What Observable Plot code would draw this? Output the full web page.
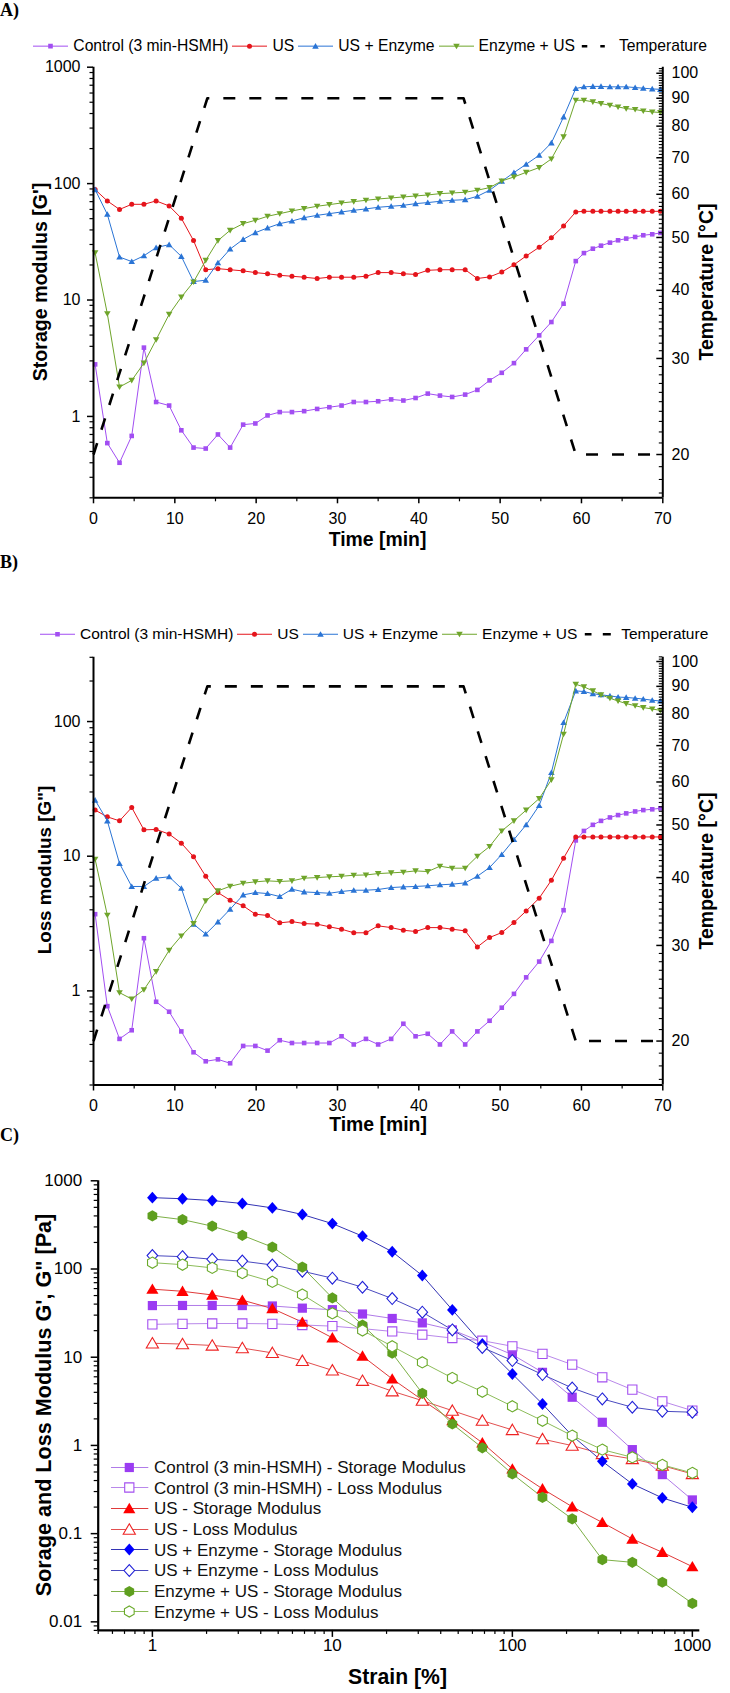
<!DOCTYPE html>
<html>
<head>
<meta charset="utf-8">
<title>Rheology of HSMH gels</title>
<script src="https://cdn.jsdelivr.net/npm/d3@7"></script>
<script src="https://cdn.jsdelivr.net/npm/@observablehq/plot@0.6"></script>
<style>
  html, body { margin: 0; padding: 0; background: #fff; }
  #page { position: relative; width: 730px; height: 1693px; overflow: hidden;
          font-family: "Liberation Sans", Arial, Helvetica, sans-serif; color: #000; }
  #page > * { position: absolute; }
  .tag { font-family: "Liberation Serif", "Times New Roman", serif; font-weight: bold; font-size: 18px; line-height: 1; }
  .title { font-weight: bold; white-space: nowrap; line-height: 1; }
  .legend { display: flex; align-items: center; white-space: nowrap; line-height: 1; }
  .legend svg { display: block; flex: none; }
  .crow { display: flex; align-items: center; white-space: nowrap; line-height: 1; font-size: 17px; color: #111; }
  .crow svg { display: block; flex: none; overflow: visible; }
</style>
</head>
<body>
<div id="page"></div>
<script>
// ---------- Temperature sweeps (panels A and B) ----------
const timeMin = [0.2, 1.7, 3.2, 4.7, 6.2, 7.7, 9.3, 10.8, 12.3, 13.8,
  15.3, 16.8, 18.4, 19.9, 21.4, 22.9, 24.4, 25.9, 27.5, 29.0,
  30.5, 32.0, 33.5, 35.0, 36.6, 38.1, 39.6, 41.1, 42.6, 44.1,
  45.7, 47.2, 48.7, 50.2, 51.7, 53.2, 54.8, 56.3, 57.8, 59.3,
  60.3, 61.4, 62.4, 63.5, 64.5, 65.5, 66.6, 67.6, 68.7, 69.7];

const seriesNames = ["Control (3 min-HSMH)", "US", "US + Enzyme", "Enzyme + US"];

// Storage modulus G' [Pa]
const storageControl = [2.8, 0.59, 0.40, 0.68, 3.9, 1.33, 1.24, 0.76, 0.54, 0.53,
  0.70, 0.54, 0.85, 0.87, 1.02, 1.09, 1.09, 1.11, 1.16, 1.20,
  1.24, 1.33, 1.33, 1.35, 1.40, 1.37, 1.44, 1.57, 1.51, 1.47,
  1.54, 1.69, 2.04, 2.37, 2.87, 3.77, 4.97, 6.47, 9.3, 21.6,
  25.3, 27.6, 29.3, 31.1, 32.6, 33.7, 34.8, 36.0, 36.7, 37.7];
const storageUS = [88.8, 71, 60, 66.4, 66.4, 71, 64.3, 50.4, 32.4, 18.2,
  18.6, 18.2, 17.8, 17.2, 16.8, 16.3, 16.0, 15.7, 15.3, 15.7,
  15.7, 15.7, 16.0, 17.2, 17.2, 16.8, 16.6, 18.0, 18.2, 18.2,
  18.2, 15.3, 15.8, 17.4, 20.1, 23.9, 28.4, 34.3, 43.3, 57.1,
  57.8, 57.8, 57.8, 57.8, 57.8, 57.8, 57.8, 57.8, 57.8, 57.8];
const storageUSEnzyme = [88.8, 54.5, 23.4, 21.4, 24.0, 28.2, 29.9, 23.7, 14.4, 14.8,
  20.9, 27.4, 33.2, 37.9, 41.6, 45.3, 47.7, 51.0, 53.4, 55.2,
  57.1, 59.0, 60.6, 62.6, 63.9, 65.1, 67.3, 68.7, 70.5, 71.9,
  72.8, 77.8, 87.7, 104.8, 124.4, 146.7, 175.2, 223.8, 374, 656,
  678, 684, 684, 678, 678, 678, 669, 660, 651, 645];
const storageEnzymeUS = [25.4, 7.63, 1.79, 2.04, 2.87, 4.56, 7.53, 10.6, 14.3, 21.9,
  32.4, 39.7, 45.3, 48.4, 52.4, 55.2, 58.2, 61.0, 63.9, 66.0,
  68.2, 70.0, 71.9, 73.8, 75.3, 76.8, 78.3, 79.9, 82.0, 83.1,
  84.3, 87.7, 92.4, 105.4, 114.1, 125, 137.3, 163, 252, 520,
  520, 504, 487, 471, 456, 441, 433, 421, 413, 408];

// Loss modulus G'' [Pa]
const lossControl = [3.71, 0.77, 0.44, 0.51, 2.46, 0.83, 0.70, 0.50, 0.35, 0.30,
  0.31, 0.29, 0.39, 0.39, 0.36, 0.43, 0.41, 0.41, 0.41, 0.41,
  0.46, 0.40, 0.44, 0.40, 0.44, 0.57, 0.46, 0.48, 0.40, 0.50,
  0.40, 0.50, 0.60, 0.75, 0.95, 1.26, 1.65, 2.35, 3.97, 13.1,
  15.4, 17.1, 18.3, 19.4, 20.2, 20.8, 21.5, 22.0, 22.3, 22.7];
const lossUS = [22.0, 19.6, 18.3, 23.0, 15.7, 15.8, 14.6, 12.5, 9.9, 7.1,
  5.37, 4.71, 4.28, 3.71, 3.63, 3.20, 3.27, 3.16, 3.13, 2.99,
  2.87, 2.70, 2.70, 3.04, 2.95, 2.82, 2.76, 2.95, 2.95, 2.87,
  2.79, 2.12, 2.49, 2.71, 3.22, 3.92, 4.88, 6.63, 9.67, 13.9,
  13.9, 13.9, 13.9, 13.9, 13.9, 13.9, 13.9, 13.9, 13.9, 13.9];
const lossUSEnzyme = [26.1, 18.3, 8.83, 5.96, 5.96, 6.87, 7.03, 5.78, 3.13, 2.64,
  3.25, 4.04, 5.16, 5.37, 5.28, 5.02, 5.69, 5.43, 5.37, 5.31,
  5.47, 5.59, 5.59, 5.66, 5.85, 5.92, 5.96, 6.03, 6.13, 6.20,
  6.34, 7.10, 8.24, 10.3, 13.3, 17.1, 23.8, 41.8, 98.3, 169,
  167, 161, 158, 155, 152, 151, 149, 147, 144, 142];
const lossEnzymeUS = [9.5, 3.65, 0.97, 0.87, 1.02, 1.39, 2.00, 2.56, 3.16, 4.66,
  5.53, 5.98, 6.30, 6.45, 6.56, 6.49, 6.56, 6.87, 6.94, 7.03,
  7.10, 7.22, 7.26, 7.43, 7.52, 7.61, 7.78, 7.69, 8.43, 8.15,
  8.15, 10.0, 11.8, 15.4, 18.3, 22.0, 26.8, 36.9, 80.5, 189,
  181, 169, 158, 149, 142, 136, 131, 127, 124, 121];

// Temperature programme (heating, holding, cooling, holding)
const tempTimeMin = [0, 14, 45.5, 59.3, 70];
const tempCelsius = [20, 90, 90, 20, 20];

// ---------- Amplitude sweep (panel C) ----------
const strainPct = [1, 1.47, 2.15, 3.16, 4.64, 6.81, 10, 14.7, 21.5, 31.6,
  46.4, 68.1, 100, 147, 215, 316, 464, 681, 1000];
const sweepControlStorage = [38.5, 38.6, 38.6, 38.5, 38.1, 36.0, 34.6, 30.9, 27.5, 24.5,
  20.4, 14.8, 10.7, 6.74, 3.52, 1.83, 0.896, 0.467, 0.241];
const sweepControlLoss = [23.6, 23.9, 24.1, 24.1, 23.9, 23.2, 22.5, 21.1, 19.6, 18.0,
  16.5, 15.4, 13.3, 10.9, 8.24, 5.92, 4.29, 3.16, 2.48];
const sweepUSStorage = [59.1, 55.9, 50.8, 44.4, 35.6, 25.0, 16.6, 10.3, 5.68, 3.28,
  1.91, 1.07, 0.542, 0.322, 0.202, 0.134, 0.087, 0.0615, 0.0423];
const sweepUSLoss = [14.4, 14.1, 13.6, 12.7, 11.2, 9.1, 7.10, 5.42, 4.12, 3.22,
  2.48, 1.91, 1.50, 1.18, 0.995, 0.80, 0.703, 0.59, 0.475];
const sweepUSEnzymeStorage = [644, 626, 597, 553, 493, 415, 327, 236, 157, 84.3,
  34.4, 14.1, 6.46, 2.95, 1.29, 0.66, 0.366, 0.254, 0.199];
const sweepUSEnzymeLoss = [142, 138, 129, 123, 111, 94.5, 78.7, 62.1, 46.2, 32.4,
  20.4, 12.9, 9.16, 6.36, 4.48, 3.37, 2.71, 2.44, 2.38];
const sweepEnzymeUSStorage = [400, 363, 306, 241, 177, 105, 47.0, 23.2, 11.1, 3.90,
  1.75, 0.94, 0.475, 0.258, 0.147, 0.0507, 0.0473, 0.0281, 0.0162];
const sweepEnzymeUSLoss = [118, 112, 103, 90, 71.6, 51.3, 31.5, 20.1, 13.3, 8.75,
  5.82, 4.07, 2.78, 1.91, 1.29, 0.896, 0.733, 0.601, 0.488];

// ---------- Tick labels ----------
const timeTicks = [0, 10, 20, 30, 40, 50, 60, 70];
const timeMinorTicks = [5, 15, 25, 35, 45, 55, 65];
const storageTicks = [1, 10, 100, 1000];
const lossTicks = [1, 10, 100];
const tempTicks = [20, 30, 40, 50, 60, 70, 80, 90, 100];
const strainTicks = [1, 10, 100, 1000];
const sweepTicks = [0.01, 0.1, 1, 10, 100, 1000];

// ---------- Marker shapes ----------
function shape(drawFn) {
  return {draw(ctx, size) { drawFn(ctx, Math.sqrt(size / Math.PI)); }};
}
const shapes = {
  square: shape((c, r) => { c.moveTo(-r, -r); c.lineTo(r, -r); c.lineTo(r, r); c.lineTo(-r, r); c.closePath(); }),
  circle: shape((c, r) => { c.moveTo(r, 0); c.arc(0, 0, r, 0, 2 * Math.PI); c.closePath(); }),
  triUp: shape((c, r) => { c.moveTo(0, -1.1 * r); c.lineTo(1.17 * r, 0.9 * r); c.lineTo(-1.17 * r, 0.9 * r); c.closePath(); }),
  triDown: shape((c, r) => { c.moveTo(0, 1.1 * r); c.lineTo(1.17 * r, -0.9 * r); c.lineTo(-1.17 * r, -0.9 * r); c.closePath(); }),
  diamond: shape((c, r) => { c.moveTo(0, -1.12 * r); c.lineTo(r, 0); c.lineTo(0, 1.12 * r); c.lineTo(-r, 0); c.closePath(); }),
  hexagon: shape((c, r) => {
    for (let k = 0; k < 6; k++) {
      const a = Math.PI / 3 * k - Math.PI / 2, x = r * Math.cos(a), y = r * Math.sin(a);
      k ? c.lineTo(x, y) : c.moveTo(x, y);
    }
    c.closePath();
  })
};
function shapePath(sym, r) { const p = d3.path(); sym.draw(p, Math.PI * r * r); return p.toString(); }

// ---------- Styling ----------
const timeStyles = [
  {color: "#a24ef2", symbol: shapes.square, r: 2.3},
  {color: "#e5141b", symbol: shapes.circle, r: 2.5},
  {color: "#2a74d5", symbol: shapes.triUp, r: 2.8},
  {color: "#6fa52b", symbol: shapes.triDown, r: 2.8}
];
const plotStyle = {fontFamily: '"Liberation Sans", Arial, Helvetica, sans-serif', color: "#000", background: "transparent", overflow: "visible"};

// ---------- Helpers ----------
const page = document.getElementById("page");
function put(el, left, top) { el.style.left = left + "px"; el.style.top = top + "px"; page.appendChild(el); return el; }
function text(str, cls, x, y, {size, rotate = 0, anchor = "center"} = {}) {
  const d = document.createElement("div");
  d.className = cls;
  d.textContent = str;
  if (size) d.style.fontSize = size + "px";
  d.style.transform = `translate(${anchor === "center" ? "-50%" : "0"},-50%)` + (rotate ? ` rotate(${rotate}deg)` : "");
  return put(d, x, y);
}
function logMinors([lo, hi], majors) {
  const out = [];
  for (let e = Math.floor(Math.log10(lo)); e <= Math.ceil(Math.log10(hi)); e++) {
    for (let m = 2; m <= 9; m++) {
      const v = +(m * Math.pow(10, e)).toPrecision(6);
      if (v >= lo * 0.999 && v <= hi * 1.001 && !majors.includes(v)) out.push(v);
    }
  }
  return out;
}
function rangeInt(a, b, skip) { const out = []; for (let v = a; v <= b; v++) if (!skip.includes(v)) out.push(v); return out; }

// ---------- Panels A and B ----------
function timePanel({svgTop, svgHeight, plotTop, plotBottom, yDomain, yTicks, tempDomain, values}) {
  const marginTop = plotTop - svgTop;
  const marginBottom = svgTop + svgHeight - plotBottom;
  const marginLeft = 93, marginRight = 67.7;
  const plotW = 730 - marginLeft - marginRight;
  const frame = {width: 730, height: svgHeight, marginLeft, marginRight, marginTop, marginBottom, style: plotStyle};

  const seriesMarks = values.flatMap((arr, s) => {
    const rows = timeMin.map((t, i) => ({t, v: arr[i]}));
    const st = timeStyles[s];
    return [
      Plot.line(rows, {x: "t", y: "v", stroke: st.color, strokeWidth: 1}),
      Plot.dot(rows, {x: "t", y: "v", symbol: st.symbol, r: st.r, fill: st.color, stroke: "none"})
    ];
  });

  const main = Plot.plot({
    ...frame,
    x: {domain: [0, 70]},
    y: {type: "log", domain: yDomain},
    marks: [
      Plot.axisY(logMinors(yDomain, yTicks), {anchor: "left", tickSize: 3.5, tickFormat: () => "", strokeWidth: 1.2, label: null}),
      Plot.axisY(yTicks, {anchor: "left", tickSize: 6, tickPadding: 7, tickFormat: d => String(d), fontSize: 16, strokeWidth: 1.5, label: null}),
      Plot.axisX(timeMinorTicks, {tickSize: 4, tickFormat: () => "", strokeWidth: 1.2, label: null}),
      Plot.axisX(timeTicks, {tickSize: 6, tickPadding: 9, fontSize: 16, strokeWidth: 1.5, label: null}),
      ...seriesMarks,
      Plot.ruleX([0], {strokeWidth: 2}),
      Plot.ruleY([yDomain[0]], {strokeWidth: 2})
    ]
  });

  const tempRows = tempTimeMin.map((t, i) => ({t, T: tempCelsius[i]}));
  const temp = Plot.plot({
    ...frame,
    x: {domain: [0, 70], axis: null},
    y: {type: "log", domain: tempDomain},
    marks: [
      Plot.line(tempRows, {x: "t", y: "T", stroke: "#000", strokeWidth: 2.6, strokeDasharray: "12,14", strokeLinecap: "butt"}),
      Plot.tickY(rangeInt(17, 102, tempTicks), {y: d => d, insetLeft: plotW - 3.5, stroke: "#000", strokeWidth: 1.1}),
      Plot.tickY(tempTicks, {y: d => d, insetLeft: plotW - 6, stroke: "#000", strokeWidth: 1.5}),
      Plot.axisY(tempTicks, {anchor: "right", tickSize: 0, tickPadding: 8.7, fontSize: 16, label: null}),
      Plot.ruleX([70], {strokeWidth: 2})
    ]
  });

  put(main, 0, svgTop);
  put(temp, 0, svgTop);
}

function timeLegend(left, cy, fontSize, tempDashes) {
  const lg = document.createElement("div");
  lg.className = "legend";
  lg.style.fontSize = fontSize + "px";
  let html = "";
  seriesNames.forEach((name, s) => {
    const st = timeStyles[s];
    html += `<svg width="35" height="14"><line x1="0" x2="35" y1="7" y2="7" stroke="${st.color}" stroke-width="1"/>` +
      `<path transform="translate(17.5,7)" d="${shapePath(st.symbol, st.r)}" fill="${st.color}"/></svg>` +
      `<span style="margin:0 4px 0 5px">${name}</span>`;
  });
  html += `<svg width="35" height="14">` +
    tempDashes.map(([a, b]) => `<line x1="${a}" x2="${b}" y1="7" y2="7" stroke="#000" stroke-width="2.5"/>`).join("") +
    `</svg><span style="margin-left:5px">Temperature</span>`;
  lg.innerHTML = html;
  lg.style.transform = "translate(0,-50%)";
  put(lg, left, cy);
}

// Panel A: storage modulus
text("A)", "tag", 0, 9.5, {anchor: "left"});
timeLegend(33.3, 45.7, 15.7, [[2.8, 8.3], [21.3, 25.8]]);
timePanel({
  svgTop: 55, svgHeight: 480, plotTop: 66.7, plotBottom: 497.3,
  yDomain: [0.2, 1000], yTicks: storageTicks, tempDomain: [16.66, 102.6],
  values: [storageControl, storageUS, storageUSEnzyme, storageEnzymeUS]
});
text("Time [min]", "title", 377.5, 540, {size: 19.4});
text("Storage modulus [G']", "title", 41, 282, {size: 19.6, rotate: -90});
text("Temperature [°C]", "title", 706.7, 282, {size: 19.5, rotate: -90});

// Panel B: loss modulus
text("B)", "tag", 0, 561.5, {anchor: "left"});
timeLegend(40, 634.3, 15.5, [[3.8, 10.5], [21.8, 29.8]]);
timePanel({
  svgTop: 645, svgHeight: 475, plotTop: 656.8, plotBottom: 1084.5,
  yDomain: [0.2, 300], yTicks: lossTicks, tempDomain: [16.6, 101.8],
  values: [lossControl, lossUS, lossUSEnzyme, lossEnzymeUS]
});
text("Time [min]", "title", 378, 1125, {size: 19.4});
text("Loss modulus [G\"]", "title", 45, 870, {size: 18.8, rotate: -90});
text("Temperature [°C]", "title", 706.7, 870.8, {size: 19.5, rotate: -90});

// ---------- Panel C: amplitude sweep ----------
const sweepSeries = [
  {name: "Control (3 min-HSMH) - Storage Modulus", v: sweepControlStorage, symbol: shapes.square, r: 4.6, color: "#9b3cf2", line: "#b07be8", open: false},
  {name: "Control (3 min-HSMH) - Loss Modulus", v: sweepControlLoss, symbol: shapes.square, r: 4.6, color: "#a34ff0", line: "#b988ea", open: true},
  {name: "US - Storage Modulus", v: sweepUSStorage, symbol: shapes.triUp, r: 5.2, color: "#ff0000", line: "#e03a3a", open: false},
  {name: "US - Loss Modulus", v: sweepUSLoss, symbol: shapes.triUp, r: 5.2, color: "#ee2222", line: "#e25050", open: true},
  {name: "US + Enzyme - Storage Modulus", v: sweepUSEnzymeStorage, symbol: shapes.diamond, r: 5.3, color: "#0000ff", line: "#3434b4", open: false},
  {name: "US + Enzyme - Loss Modulus", v: sweepUSEnzymeLoss, symbol: shapes.diamond, r: 5.3, color: "#2020d8", line: "#4a4ac0", open: true},
  {name: "Enzyme + US - Storage Modulus", v: sweepEnzymeUSStorage, symbol: shapes.hexagon, r: 5.6, color: "#5f9f1f", line: "#7db046", open: false},
  {name: "Enzyme + US - Loss Modulus", v: sweepEnzymeUSLoss, symbol: shapes.hexagon, r: 5.6, color: "#6aaa2a", line: "#8dbd5a", open: true}
];

(function sweepPanel() {
  const svgTop = 1165, svgHeight = 500, plotTop = 1180.3, plotBottom = 1629.9;
  const xDomain = [0.5, 1100], yDomain = [0.008, 1000];
  const lineMarks = sweepSeries.map(s => {
    const rows = strainPct.map((x, i) => ({x, v: s.v[i]}));
    return Plot.line(rows, {x: "x", y: "v", stroke: s.line, strokeWidth: 1});
  });
  const dotMarks = sweepSeries.map(s => {
    const rows = strainPct.map((x, i) => ({x, v: s.v[i]}));
    return Plot.dot(rows, {x: "x", y: "v", symbol: s.symbol, r: s.r,
      fill: s.open ? "#fff" : s.color, stroke: s.open ? s.color : "none", strokeWidth: 1.1});
  });
  const chart = Plot.plot({
    width: 730, height: svgHeight,
    marginLeft: 97.7, marginRight: 30.7, marginTop: plotTop - svgTop, marginBottom: svgTop + svgHeight - plotBottom,
    style: plotStyle,
    x: {type: "log", domain: xDomain},
    y: {type: "log", domain: yDomain},
    marks: [
      Plot.axisX(logMinors(xDomain, strainTicks), {tickSize: 4, tickFormat: () => "", strokeWidth: 1.2, label: null}),
      Plot.axisX(strainTicks, {tickSize: 7, tickPadding: 1.5, tickFormat: d => String(d), fontSize: 17, strokeWidth: 1.5, label: null}),
      Plot.axisY(logMinors(yDomain, sweepTicks), {anchor: "left", tickSize: 4, tickFormat: () => "", strokeWidth: 1.2, label: null}),
      Plot.axisY(sweepTicks, {anchor: "left", tickSize: 7, tickPadding: 9, tickFormat: d => String(d), fontSize: 17, strokeWidth: 1.5, label: null}),
      ...lineMarks,
      ...dotMarks,
      Plot.ruleX([xDomain[0]], {strokeWidth: 2.2}),
      Plot.ruleY([yDomain[0]], {strokeWidth: 2.2})
    ]
  });
  put(chart, 0, svgTop);

  // legend inside the plot area
  sweepSeries.forEach((s, k) => {
    const row = document.createElement("div");
    row.className = "crow";
    row.innerHTML = `<svg width="37.3" height="16"><line x1="0" x2="37.3" y1="8" y2="8" stroke="${s.line}" stroke-width="1"/>` +
      `<path transform="translate(18.3,8)" d="${shapePath(s.symbol, s.r)}" fill="${s.open ? "#fff" : s.color}" stroke="${s.open ? s.color : "none"}" stroke-width="1.1"/></svg>` +
      `<span style="margin-left:5.7px">${s.name}</span>`;
    row.style.transform = "translate(0,-50%)";
    put(row, 111, 1467 + 20.67 * k);
  });
})();

text("C)", "tag", 0, 1135, {anchor: "left"});
text("Strain [%]", "title", 397.5, 1676.7, {size: 21.2});
text("Sorage and Loss Modulus G', G\" [Pa]", "title", 44.2, 1405, {size: 21.6, rotate: -90});
</script>
</body>
</html>
